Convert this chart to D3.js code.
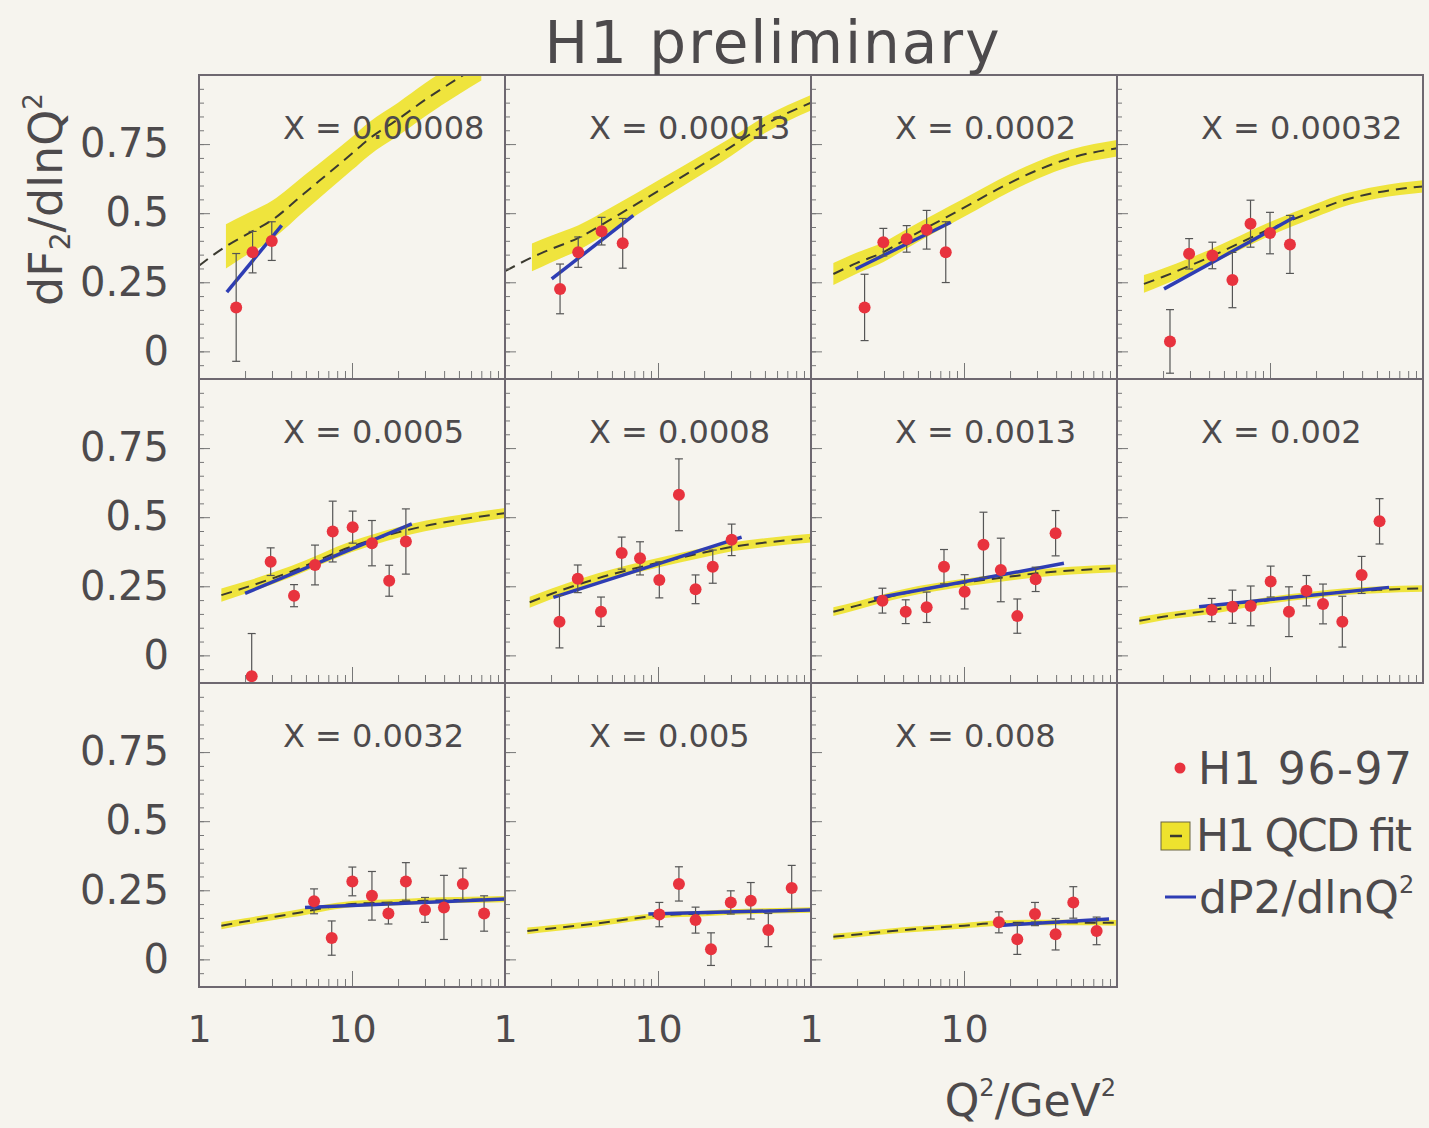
<!DOCTYPE html>
<html>
<head>
<meta charset="utf-8">
<script src="https://cdn.jsdelivr.net/npm/d3@7"></script>
<style>
  body { margin: 0; background: #f6f4ee; }
  svg { display: block; font-family: "DejaVu Sans", Verdana, sans-serif; }
</style>
</head>
<body>
<svg id="chart" width="1429" height="1128"></svg>
<script>
// x-bin of each panel
var xBins = ["0.00008", "0.00013", "0.0002", "0.00032", "0.0005", "0.0008",
             "0.0013", "0.002", "0.0032", "0.005", "0.008"];

// H1 96-97 points: Q^2, dF2/dlnQ^2, error
var dataQ2 = [
  [1.75, 2.24, 2.99],
  [2.29, 3.01, 4.28, 5.88],
  [2.24, 2.97, 4.22, 5.7, 7.6],
  [2.22, 2.96, 4.2, 5.68, 7.46, 10, 13.5],
  [2.21, 2.94, 4.18, 5.73, 7.48, 10.1, 13.5, 17.5, 22.5],
  [2.27, 2.99, 4.24, 5.79, 7.63, 10.2, 13.7, 17.6, 22.8, 30.3],
  [2.93, 4.16, 5.7, 7.4, 10.1, 13.4, 17.4, 22.3, 29.4, 39.7],
  [4.16, 5.68, 7.48, 10.1, 13.3, 17.3, 22.2, 29.7, 39.7, 52],
  [5.65, 7.37, 10.05, 13.5, 17.3, 22.5, 30, 39.9, 53, 73],
  [10.2, 13.7, 17.6, 22.2, 29.9, 40.4, 52.6, 74.8],
  [16.9, 22.3, 29.1, 39.7, 51.8, 73.6]
];
var dataVal = [
  [0.159, 0.359, 0.399],
  [0.226, 0.359, 0.435, 0.391],
  [0.159, 0.395, 0.407, 0.44, 0.359],
  [0.036, 0.353, 0.347, 0.258, 0.462, 0.428, 0.387],
  [-0.076, 0.339, 0.216, 0.327, 0.448, 0.464, 0.406, 0.27, 0.412],
  [0.122, 0.277, 0.158, 0.37, 0.351, 0.273, 0.581, 0.239, 0.321, 0.418],
  [0.198, 0.158, 0.174, 0.321, 0.23, 0.4, 0.309, 0.142, 0.275, 0.442],
  [0.164, 0.176, 0.179, 0.267, 0.158, 0.234, 0.186, 0.122, 0.291, 0.485],
  [0.21, 0.077, 0.282, 0.23, 0.166, 0.282, 0.179, 0.188, 0.273, 0.166],
  [0.162, 0.273, 0.142, 0.037, 0.206, 0.212, 0.106, 0.258],
  [0.134, 0.073, 0.164, 0.091, 0.206, 0.103]
];
var dataErr = [
  [0.195, 0.075, 0.07],
  [0.09, 0.055, 0.05, 0.09],
  [0.12, 0.05, 0.048, 0.07, 0.11],
  [0.115, 0.055, 0.048, 0.1, 0.085, 0.075, 0.105],
  [0.155, 0.05, 0.04, 0.072, 0.11, 0.058, 0.082, 0.056, 0.118],
  [0.095, 0.05, 0.053, 0.058, 0.06, 0.065, 0.13, 0.052, 0.06, 0.057],
  [0.045, 0.043, 0.055, 0.062, 0.062, 0.118, 0.115, 0.062, 0.044, 0.082],
  [0.042, 0.06, 0.072, 0.056, 0.09, 0.055, 0.072, 0.092, 0.067, 0.082],
  [0.045, 0.062, 0.052, 0.088, 0.038, 0.068, 0.045, 0.116, 0.057, 0.064],
  [0.044, 0.062, 0.047, 0.059, 0.042, 0.066, 0.06, 0.082],
  [0.038, 0.055, 0.042, 0.057, 0.057, 0.05]
];

// H1 QCD fit: central curve and half width of the error band (null = no band)
var fitQ2 = [
  [1, 1.5, 2, 3, 5, 10, 13, 20, 30, 50, 70],
  [1, 1.5, 2, 3, 5, 10, 20, 30, 50, 100],
  [1.4, 2, 3, 4, 10, 20, 30, 50, 100],
  [1.5, 2, 3, 4, 10, 20, 30, 50, 100],
  [1.4, 2, 4, 10, 20, 30, 50, 100],
  [1.45, 2, 4, 10, 20, 30, 50, 100],
  [1.4, 2, 4, 10, 20, 30, 50, 100],
  [1.4, 2, 4, 10, 20, 30, 50, 100],
  [1.4, 2, 4, 10, 20, 30, 50, 100],
  [1.4, 2, 4, 8, 10, 20, 30, 50, 100],
  [1.4, 2, 4, 10, 15, 30, 50, 100]
];
var fitVal = [
  [0.31, 0.38, 0.42, 0.475, 0.577, 0.716, 0.77, 0.84, 0.91, 0.99, 1.04],
  [0.29, 0.34, 0.37, 0.41, 0.48, 0.58, 0.68, 0.74, 0.82, 0.9],
  [0.28, 0.32, 0.36, 0.4, 0.52, 0.61, 0.655, 0.7, 0.735],
  [0.244, 0.27, 0.31, 0.34, 0.443, 0.51, 0.546, 0.575, 0.597],
  [0.218, 0.245, 0.303, 0.394, 0.445, 0.468, 0.49, 0.515],
  [0.192, 0.222, 0.278, 0.335, 0.372, 0.392, 0.408, 0.424],
  [0.158, 0.18, 0.224, 0.263, 0.285, 0.297, 0.307, 0.315],
  [0.125, 0.14, 0.162, 0.2, 0.22, 0.23, 0.237, 0.242],
  [0.122, 0.137, 0.164, 0.2, 0.207, 0.212, 0.215, 0.218],
  [0.103, 0.112, 0.13, 0.152, 0.158, 0.166, 0.171, 0.175, 0.179],
  [0.082, 0.09, 0.106, 0.122, 0.13, 0.133, 0.133, 0.132]
];
var fitErr = [
  [null, 0.08, 0.075, 0.07, 0.065, 0.06, 0.06, 0.06, 0.06, 0.06, 0.06],
  [null, 0.05, 0.048, 0.045, 0.042, 0.038, 0.035, 0.033, 0.03, 0.028],
  [0.04, 0.038, 0.036, 0.035, 0.033, 0.032, 0.031, 0.03, 0.03],
  [0.032, 0.03, 0.028, 0.027, 0.025, 0.024, 0.023, 0.022, 0.022],
  [0.024, 0.022, 0.02, 0.02, 0.019, 0.019, 0.018, 0.018],
  [0.02, 0.019, 0.018, 0.017, 0.017, 0.016, 0.016, 0.016],
  [0.016, 0.015, 0.015, 0.014, 0.014, 0.014, 0.014, 0.014],
  [0.014, 0.013, 0.013, 0.012, 0.012, 0.012, 0.012, 0.012],
  [0.013, 0.012, 0.012, 0.011, 0.011, 0.011, 0.011, 0.011],
  [0.012, 0.011, 0.011, 0.01, 0.01, 0.01, 0.01, 0.01, 0.01],
  [0.011, 0.01, 0.01, 0.01, 0.01, 0.01, 0.01, 0.01]
];

// dP2/dlnQ^2 straight line: end points
var slopeQ2 = [
  [1.52, 3.47], [2.02, 6.9], [1.96, 8.2], [2.03, 14.5], [2.0, 24.6], [2.07, 35.2],
  [2.58, 45], [3.44, 60], [4.93, 100], [8.65, 99], [16.1, 88.7]
];
var slopeVal = [
  [0.214, 0.456], [0.262, 0.492], [0.298, 0.467], [0.226, 0.486], [0.224, 0.476], [0.21, 0.428],
  [0.206, 0.333], [0.176, 0.246], [0.188, 0.218], [0.164, 0.179], [0.122, 0.146]
];

var yTickValues = [0, 0.25, 0.5, 0.75];
var xTickValues = [1, 10];

// layout
var colLeft = [199, 505, 811, 1117];
var rowTop = [75, 379, 683];
var panelW = 306, panelH = 304;
var textColor = "#4d4a4c";
var frameColor = "#6e6870";

var svg = d3.select("#chart");
var defs = svg.append("defs");

var x = d3.scaleLog().domain([1, 100]).range([0, panelW]);
var y = d3.scaleLinear().domain([-0.1, 1.0]).range([panelH, 0]);

var fitLine = d3.line()
  .curve(d3.curveMonotoneX)
  .x(function(d) { return x(d.q); })
  .y(function(d) { return y(d.v); });

var fitArea = d3.area()
  .curve(d3.curveMonotoneX)
  .defined(function(d) { return d.e !== null; })
  .x(function(d) { return x(d.q); })
  .y0(function(d) { return y(d.v - d.e); })
  .y1(function(d) { return y(d.v + d.e); });

xBins.forEach(function(bin, i) {
  var col = i % 4, row = Math.floor(i / 4);
  var g = svg.append("g").attr("transform", "translate(" + colLeft[col] + "," + rowTop[row] + ")");

  defs.append("clipPath").attr("id", "clip" + i)
    .append("rect").attr("width", panelW).attr("height", panelH);

  var inner = g.append("g").attr("clip-path", "url(#clip" + i + ")");

  var fit = fitQ2[i].map(function(q, k) { return { q: q, v: fitVal[i][k], e: fitErr[i][k] }; });
  var pts = dataQ2[i].map(function(q, k) { return { q: q, v: dataVal[i][k], e: dataErr[i][k] }; });

  // QCD fit band + dashed central line
  inner.append("path").datum(fit)
    .attr("d", fitArea)
    .attr("fill", "#eee22e")
    .attr("fill-opacity", 0.92);
  inner.append("path").datum(fit)
    .attr("d", fitLine)
    .attr("fill", "none")
    .attr("stroke", "#3b3a30")
    .attr("stroke-width", 2)
    .attr("stroke-dasharray", "11,7");

  // local slope line
  var slope = slopeQ2[i].map(function(q, k) { return { q: q, v: slopeVal[i][k] }; });
  inner.append("path").datum(slope)
    .attr("d", d3.line().x(function(d) { return x(d.q); }).y(function(d) { return y(d.v); }))
    .attr("stroke", "#2e3db4")
    .attr("stroke-width", 3.5)
    .attr("fill", "none");

  // error bars
  var bars = inner.selectAll("g.err").data(pts).enter().append("g").attr("class", "err")
    .attr("stroke", "#555")
    .attr("stroke-width", 1.2);
  bars.append("line")
    .attr("x1", function(d) { return x(d.q); }).attr("x2", function(d) { return x(d.q); })
    .attr("y1", function(d) { return y(d.v - d.e); }).attr("y2", function(d) { return y(d.v + d.e); });
  bars.append("line")
    .attr("x1", function(d) { return x(d.q) - 4; }).attr("x2", function(d) { return x(d.q) + 4; })
    .attr("y1", function(d) { return y(d.v + d.e); }).attr("y2", function(d) { return y(d.v + d.e); });
  bars.append("line")
    .attr("x1", function(d) { return x(d.q) - 4; }).attr("x2", function(d) { return x(d.q) + 4; })
    .attr("y1", function(d) { return y(d.v - d.e); }).attr("y2", function(d) { return y(d.v - d.e); });

  // points
  inner.selectAll("circle").data(pts).enter().append("circle")
    .attr("cx", function(d) { return x(d.q); })
    .attr("cy", function(d) { return y(d.v); })
    .attr("r", 6)
    .attr("fill", "#e8333e");

  // inward ticks
  var tickGroups = [
    d3.axisLeft(y).tickValues(d3.range(-0.1, 1.0001, 0.05)).tickSize(-5),
    d3.axisLeft(y).tickValues(yTickValues).tickSize(-11)
  ];
  tickGroups.forEach(function(ax) {
    var a = g.append("g").call(ax.tickFormat(""));
    a.select(".domain").remove();
    a.selectAll("line").attr("stroke", "#777");
  });
  var bottomTicks = [
    d3.axisBottom(x).tickValues([2, 3, 4, 5, 6, 7, 8, 9, 20, 30, 40, 50, 60, 70, 80, 90]).tickSize(-8),
    d3.axisBottom(x).tickValues([10]).tickSize(-16)
  ];
  bottomTicks.forEach(function(ax) {
    var a = g.append("g").attr("transform", "translate(0," + panelH + ")").call(ax.tickFormat(""));
    a.select(".domain").remove();
    a.selectAll("line").attr("stroke", "#777");
  });

  // frame
  g.append("rect")
    .attr("width", panelW).attr("height", panelH)
    .attr("fill", "none")
    .attr("stroke", frameColor)
    .attr("stroke-width", 2);

  // bin label
  g.append("text")
    .attr("x", 84).attr("y", 64)
    .attr("font-size", 32)
    .attr("fill", textColor)
    .text("X = " + bin);

  // tick labels on the outer panels
  if (col === 0) {
    var ya = g.append("g").call(d3.axisLeft(y).tickValues(yTickValues).tickSize(0).tickPadding(30)
      .tickFormat(function(d) { return String(d); }));
    ya.select(".domain").remove();
    ya.selectAll("text").attr("font-size", 40).attr("fill", textColor).attr("font-family", "DejaVu Sans");
  }
  if (row === 2) {
    var xa = g.append("g").attr("transform", "translate(0," + panelH + ")")
      .call(d3.axisBottom(x).tickValues(xTickValues).tickSize(0).tickPadding(28)
        .tickFormat(function(d) { return String(d); }));
    xa.select(".domain").remove();
    xa.selectAll("text").attr("font-size", 38).attr("fill", textColor).attr("font-family", "DejaVu Sans");
  }
});

// title
svg.append("text")
  .attr("x", 772).attr("y", 63)
  .attr("text-anchor", "middle")
  .attr("font-size", 58)
  .attr("fill", textColor)
  .attr("textLength", 455)
  .text("H1 preliminary");

// y axis title
var yt = svg.append("text")
  .attr("transform", "translate(62,306) rotate(-90)")
  .attr("font-size", 46)
  .attr("fill", textColor);
yt.append("tspan").text("dF");
yt.append("tspan").attr("font-size", 28).attr("dy", 8).text("2");
yt.append("tspan").attr("dy", -8).text("/dlnQ");
yt.append("tspan").attr("font-size", 26).attr("dy", -20).text("2");

// x axis title
var xt = svg.append("text")
  .attr("x", 1116).attr("y", 1116)
  .attr("text-anchor", "end")
  .attr("font-size", 44)
  .attr("fill", textColor);
xt.append("tspan").text("Q");
xt.append("tspan").attr("font-size", 24).attr("dy", -20).text("2");
xt.append("tspan").attr("dy", 20).text("/GeV");
xt.append("tspan").attr("font-size", 24).attr("dy", -20).text("2");

// legend
var leg = svg.append("g");
leg.append("circle").attr("cx", 1180).attr("cy", 768).attr("r", 5.5).attr("fill", "#e8333e");
leg.append("text").attr("x", 1198).attr("y", 784).attr("font-size", 44).attr("fill", textColor)
  .attr("textLength", 214).text("H1 96-97");

leg.append("rect").attr("x", 1161).attr("y", 822).attr("width", 29).attr("height", 28)
  .attr("fill", "#eee22e").attr("stroke", "#6a6440").attr("stroke-width", 1);
leg.append("line").attr("x1", 1170).attr("x2", 1182).attr("y1", 836).attr("y2", 836)
  .attr("stroke", "#3b3a30").attr("stroke-width", 2.5);
leg.append("text").attr("x", 1196).attr("y", 851).attr("font-size", 44).attr("fill", textColor)
  .attr("textLength", 216).text("H1 QCD fit");

leg.append("line").attr("x1", 1165).attr("x2", 1196).attr("y1", 897).attr("y2", 897)
  .attr("stroke", "#2e3db4").attr("stroke-width", 3);
var lt = leg.append("text").attr("x", 1199).attr("y", 913).attr("font-size", 44).attr("fill", textColor);
lt.append("tspan").text("dP2/dlnQ");
lt.append("tspan").attr("font-size", 24).attr("dy", -20).text("2");
</script>
</body>
</html>
